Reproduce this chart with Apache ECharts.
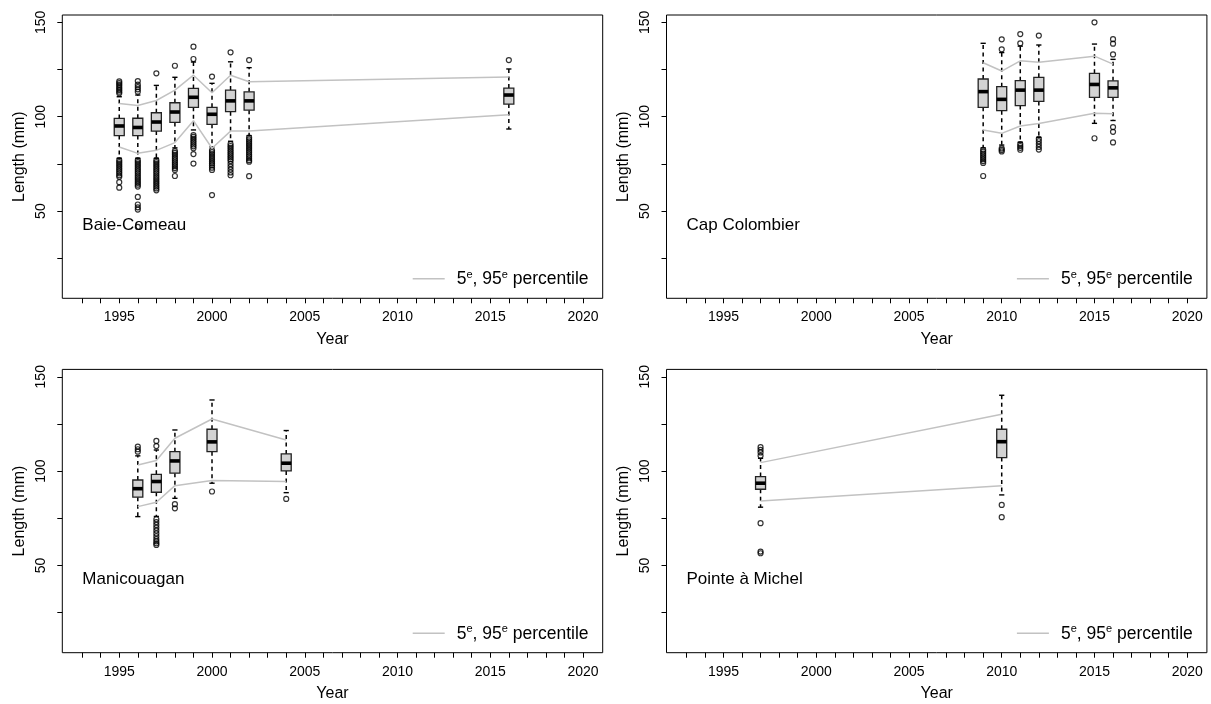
<!DOCTYPE html>
<html>
<head>
<meta charset="utf-8">
<title>Length by year</title>
<script src="https://cdn.jsdelivr.net/npm/echarts@6/dist/echarts.min.js"></script>
<style>
  html, body { margin: 0; padding: 0; background: #fff; }
  #chart { width: 1211px; height: 704px; }
</style>
</head>
<body>
<div id="chart"></div>
<script>
// ---- Axis ticks and labels ----
const xTickValues = [1993,1994,1995,1996,1997,1998,1999,2000,2001,2002,2003,2004,2005,2006,2007,2008,2009,2010,2011,2012,2013,2014,2015,2016,2017,2018,2019,2020];
const xLabelValues = [1995, 2000, 2005, 2010, 2015, 2020];
const yTickValues = [25, 50, 75, 100, 125, 150];
const yLabelValues = [50, 100, 150];

// ---- Baie-Comeau ----
const bcYears = [1995, 1996, 1997, 1998, 1999, 2000, 2001, 2002, 2016];
// [lower whisker, Q1, median, Q3, upper whisker]
const bcStats = [
  [78, 90.0, 95.1, 99.1, 110.6],
  [78, 90.0, 94.3, 99.2, 111.5],
  [78, 92.4, 97.2, 102.1, 116.6],
  [83.5, 97.0, 102.5, 107.4, 120.9],
  [93, 105.0, 110.3, 115.0, 129.0],
  [84, 96.0, 101.3, 105.0, 117.7],
  [87, 102.7, 108.4, 114.1, 129.1],
  [90, 103.5, 108.4, 113.2, 126.0],
  [93.5, 106.7, 111.5, 115.2, 125.3]
];
const bcOutliers = [
  [112.4, 113.3, 114.2, 115.1, 116.0, 116.9, 117.8, 118.7, 77, 76, 75, 74, 73, 72, 71, 70, 69, 68.2, 65.3, 62.4],
  [113.3, 114.5, 115.7, 117.0, 118.9, 77, 76, 75, 74, 73, 72, 71, 70, 69, 68, 67, 66, 65, 64, 63, 57.5, 53.5, 52.0, 50.8, 41.6],
  [123.0, 77, 76, 75, 74, 73, 72, 71, 70, 69, 68, 67, 66, 65, 64, 63, 62, 61],
  [127.0, 81.8, 80.8, 79.8, 78.8, 77.8, 76.8, 75.8, 74.8, 73.8, 72.8, 71.8, 68.6],
  [130.6, 137.1, 90.3, 89.3, 88.3, 87.3, 86.3, 85.3, 84.3, 83.3, 80.2, 75.2],
  [121.3, 82.2, 81.2, 80.2, 79.2, 78.2, 77.2, 76.2, 75.2, 74.2, 73.0, 71.8, 58.5],
  [134.1, 85.5, 84.5, 83.5, 82.5, 81.5, 80.5, 79.5, 78.5, 77.5, 76.5, 75.0, 73.5, 72.0, 70.5, 69.0],
  [130.0, 89, 88, 87, 86, 85, 84, 83, 82, 81, 80, 79, 78, 77, 76.2, 68.5],
  [130.0]
];
const bcP95 = [107.0, 106.0, 108.6, 114.1, 122.0, 112.7, 122.0, 118.5, 121.0];
const bcP5 = [84.0, 80.6, 82.2, 86.3, 97.9, 83.3, 92.4, 92.5, 101.0];

// ---- Cap Colombier ----
const ccYears = [2009, 2010, 2011, 2012, 2015, 2016];
const ccStats = [
  [83.5, 105.0, 113.3, 120.0, 138.9],
  [85, 103.2, 109.2, 115.9, 134.0],
  [86.5, 105.9, 114.1, 119.1, 137.4],
  [89, 108.1, 114.1, 120.9, 138.0],
  [96.5, 110.3, 117.1, 123.0, 138.5],
  [98, 110.3, 115.3, 119.0, 130.4]
];
const ccOutliers = [
  [82.5, 81.5, 80.5, 79.5, 78.5, 77.5, 76.5, 75.5, 68.6],
  [135.7, 141.0, 83.2, 82.4, 81.6],
  [138.9, 143.8, 85.5, 84.5, 83.5, 82.5],
  [143.0, 88.3, 87.0, 85.5, 84.0, 82.6],
  [150.0, 88.6],
  [133.0, 138.7, 141.1, 94.5, 92.0, 86.4]
];
const ccP95 = [128.6, 124.2, 129.6, 128.9, 132.1, 127.9];
const ccP5 = [93.0, 91.2, 95.1, 96.4, 101.8, 101.6];

// ---- Manicouagan ----
const mnYears = [1996, 1997, 1998, 2000, 2004];
const mnStats = [
  [75.9, 86.2, 90.7, 95.3, 108.1],
  [76, 88.8, 94.5, 98.3, 111.2],
  [85.6, 98.9, 105.4, 110.3, 121.8],
  [93.6, 110.3, 115.5, 122.2, 137.7],
  [88.6, 100.1, 104.2, 109.1, 121.5]
];
const mnOutliers = [
  [110.3, 111.6, 113.0],
  [113.3, 116.0, 74.5, 73.0, 71.5, 70.0, 68.5, 67.0, 65.5, 64.0, 62.8, 61.8, 60.9],
  [82.5, 80.3],
  [89.2],
  [85.3]
];
const mnP95 = [103.3, 105.6, 117.4, 127.6, 116.5];
const mnP5 = [81.2, 83.5, 92.3, 95.0, 94.5];

// ---- Pointe à Michel ----
const pmYears = [1997, 2010];
const pmStats = [
  [80.9, 90.4, 93.6, 97.1, 106.8],
  [87.4, 107.2, 115.6, 122.2, 140.2]
];
const pmOutliers = [
  [108.1, 109.9, 111.3, 112.7, 72.4, 57.4, 56.5],
  [82.1, 75.6]
];
const pmP95 = [104.5, 130.1];
const pmP5 = [84.2, 92.2];

const stations = [
  { name: 'Baie-Comeau', years: bcYears, stats: bcStats, outliers: bcOutliers, p95: bcP95, p5: bcP5 },
  { name: 'Cap Colombier', years: ccYears, stats: ccStats, outliers: ccOutliers, p95: ccP95, p5: ccP5 },
  { name: 'Manicouagan', years: mnYears, stats: mnStats, outliers: mnOutliers, p95: mnP95, p5: mnP5 },
  { name: 'Pointe à Michel', years: pmYears, stats: pmStats, outliers: pmOutliers, p95: pmP95, p5: pmP5 }
];

// ---- Layout ----
const FONT = '"Liberation Sans", Arial, Helvetica, sans-serif';
const GRID_W = 540.4, GRID_H = 283.3;
const GRID_LEFT = [62.3, 666.5, 62.3, 666.5];
const GRID_TOP = [15, 15, 369.4, 369.4];
const LEGEND_NAME = '5e, 95e percentile';
const LINE_GREY = '#c2c2c2';

function renderBox(params, api) {
  const x = api.value(0);
  const lo = api.coord([x, api.value(1)]);
  const q1 = api.coord([x, api.value(2)]);
  const md = api.coord([x, api.value(3)]);
  const q3 = api.coord([x, api.value(4)]);
  const hi = api.coord([x, api.value(5)]);
  const cx = lo[0], hw = 5, sw = 2.6;
  const dash = { stroke: '#000', lineWidth: 1.5, lineDash: [4, 3.5] };
  const solid = { stroke: '#000', lineWidth: 1.4 };
  return {
    type: 'group',
    children: [
      { type: 'line', shape: { x1: cx, y1: q3[1], x2: cx, y2: hi[1] }, style: dash },
      { type: 'line', shape: { x1: cx, y1: q1[1], x2: cx, y2: lo[1] }, style: dash },
      { type: 'line', shape: { x1: cx - sw, y1: hi[1], x2: cx + sw, y2: hi[1] }, style: solid },
      { type: 'line', shape: { x1: cx - sw, y1: lo[1], x2: cx + sw, y2: lo[1] }, style: solid },
      { type: 'rect', shape: { x: cx - hw, y: q3[1], width: 2 * hw, height: q1[1] - q3[1] },
        style: { fill: '#d3d3d3', stroke: '#222', lineWidth: 1.3 } },
      { type: 'line', shape: { x1: cx - hw, y1: md[1], x2: cx + hw, y2: md[1] },
        style: { stroke: '#000', lineWidth: 3.6 } }
    ]
  };
}

const grids = [], xAxes = [], yAxes = [], series = [], legends = [], graphics = [];

stations.forEach((st, i) => {
  grids.push({
    left: GRID_LEFT[i], top: GRID_TOP[i], width: GRID_W, height: GRID_H,
    show: true, borderColor: '#000', borderWidth: 1, backgroundColor: 'transparent'
  });
  xAxes.push({
    type: 'value', gridIndex: i, min: 1991.93, max: 2021.06,
    name: 'Year', nameLocation: 'middle', nameGap: 33,
    nameTextStyle: { fontSize: 16, fontFamily: FONT, color: '#000' },
    axisLine: { show: false },
    splitLine: { show: false },
    axisTick: { show: true, length: 5, lineStyle: { color: '#000', width: 1 }, customValues: xTickValues },
    axisLabel: { customValues: xLabelValues, formatter: v => String(v),
      fontSize: 14, fontFamily: FONT, color: '#000', margin: 12 }
  });
  yAxes.push({
    type: 'value', gridIndex: i, min: 3.8, max: 153.9,
    name: 'Length (mm)', nameLocation: 'middle', nameGap: 35,
    nameTextStyle: { fontSize: 16, fontFamily: FONT, color: '#000' },
    axisLine: { show: false },
    splitLine: { show: false },
    axisTick: { show: true, length: 5, lineStyle: { color: '#000', width: 1 }, customValues: yTickValues },
    axisLabel: { customValues: yLabelValues, formatter: v => String(v), rotate: 90,
      fontSize: 14, fontFamily: FONT, color: '#000', margin: 14 }
  });

  series.push({
    type: 'custom', name: st.name + ' box', xAxisIndex: i, yAxisIndex: i,
    renderItem: renderBox, clip: false,
    encode: { x: 0, y: [1, 2, 3, 4, 5] },
    data: st.years.map((yr, k) => [yr].concat(st.stats[k])),
    z: 2
  });

  const pts = [];
  st.years.forEach((yr, k) => st.outliers[k].forEach(v => pts.push([yr, v])));
  series.push({
    type: 'scatter', name: st.name + ' outliers', xAxisIndex: i, yAxisIndex: i,
    symbol: 'circle', symbolSize: 5,
    itemStyle: { color: 'rgba(0,0,0,0)', borderColor: '#000', borderWidth: 1.2 },
    data: pts, z: 3, silent: true
  });

  [st.p95, st.p5].forEach(arr => {
    series.push({
      type: 'line', name: LEGEND_NAME, xAxisIndex: i, yAxisIndex: i,
      data: st.years.map((yr, k) => [yr, arr[k]]),
      symbol: 'none', color: LINE_GREY,
      lineStyle: { color: LINE_GREY, width: 1.5 }, z: 4
    });
  });

  legends.push({
    data: [LEGEND_NAME],
    left: GRID_LEFT[i] + 350.4, top: GRID_TOP[i] + GRID_H - 29,
    padding: 0,
    icon: 'rect', itemWidth: 32, itemHeight: 1.5,
    itemStyle: { color: LINE_GREY },
    selectedMode: false,
    formatter: () => '{n|5}{s|e}{n|, 95}{s|e}{n| percentile}',
    textStyle: {
      padding: [0, 0, 0, 7],
      rich: {
        n: { fontSize: 17.5, fontFamily: FONT, color: '#000', verticalAlign: 'bottom' },
        s: { fontSize: 11, fontFamily: FONT, color: '#000', verticalAlign: 'bottom', padding: [0, 0, 8, 0] }
      }
    }
  });

  graphics.push({
    type: 'text', x: GRID_LEFT[i] + 20, y: GRID_TOP[i] + 210,
    style: { text: st.name, fontSize: 17, fontFamily: FONT, fill: '#000', verticalAlign: 'middle' },
    silent: true
  });
});

const chart = echarts.init(document.getElementById('chart'), null, { renderer: 'canvas' });
chart.setOption({
  animation: false,
  backgroundColor: '#fff',
  grid: grids,
  xAxis: xAxes,
  yAxis: yAxes,
  legend: legends,
  series: series,
  graphic: graphics
});
</script>
</body>
</html>
